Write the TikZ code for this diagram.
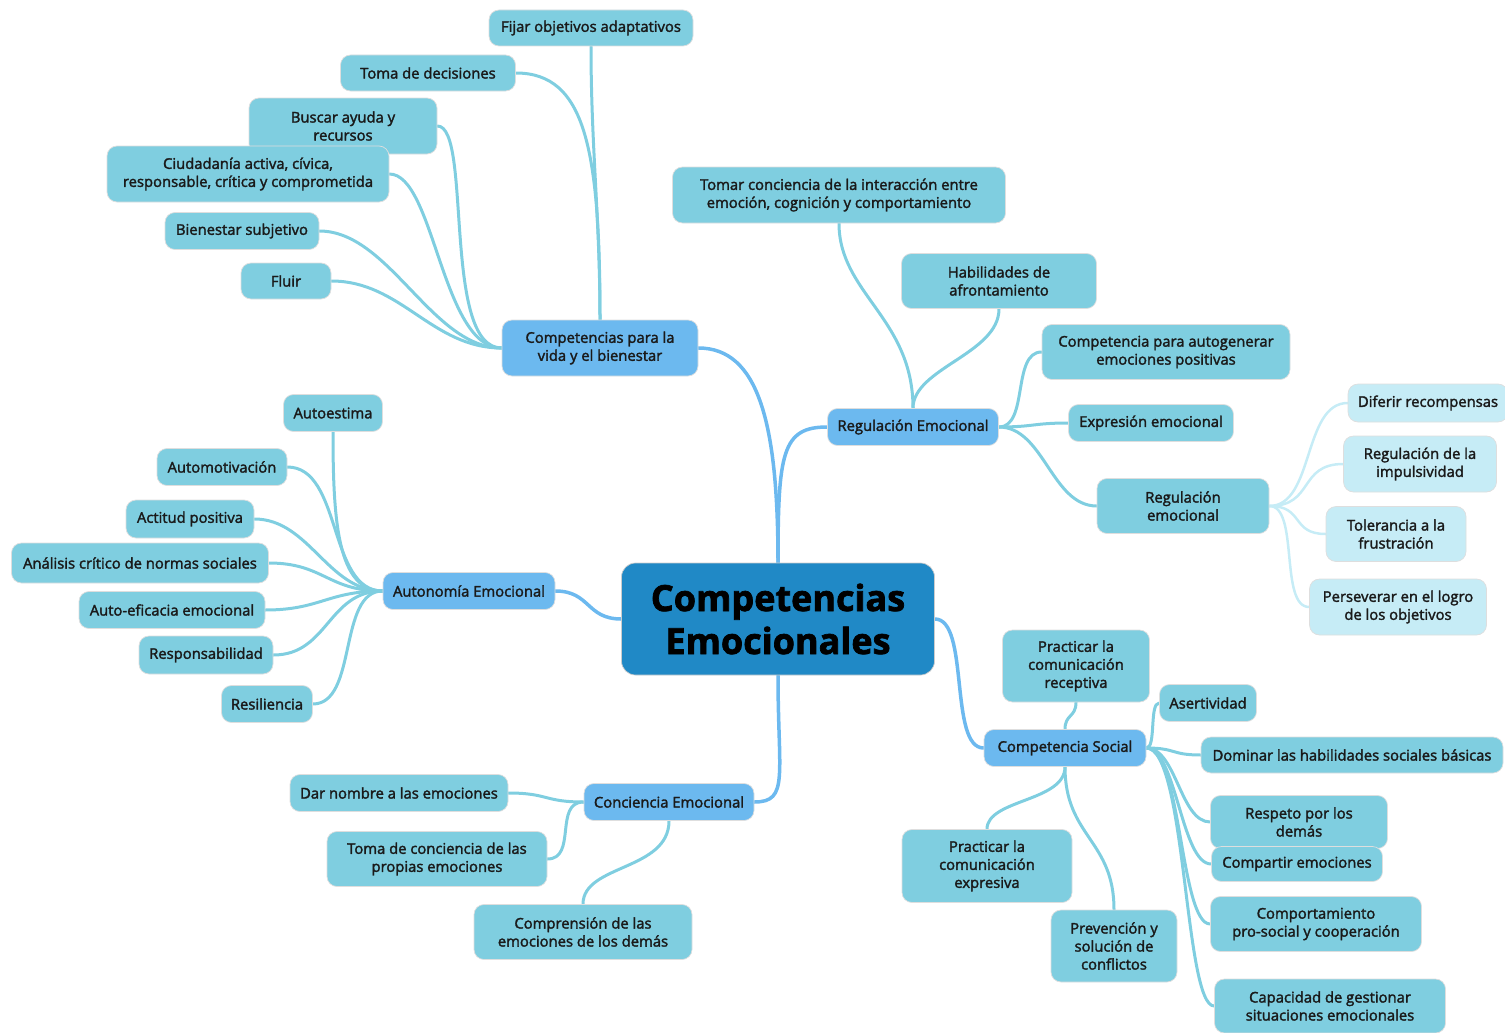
\documentclass[tikz,border=0pt]{standalone}
\usepackage{fontspec}
\setmainfont{Open Sans}[FakeBold=2]
\usetikzlibrary{positioning}
\pgfdeclarelayer{bg}
\pgfsetlayers{bg,main}
\definecolor{cC}{HTML}{2089C6}
\definecolor{cL1}{HTML}{6CB9EF}
\definecolor{cL2}{HTML}{7FCEE0}
\definecolor{cL3}{HTML}{C6ECF6}
\definecolor{txt}{HTML}{1A1A1A}
\tikzset{
  base/.style={rounded corners=10pt, align=center, inner sep=0pt, font=\fontsize{14.8}{18}\selectfont, text=txt, draw=black!13, line width=0.7pt},
  lone/.style={base, fill=cL1},
  ltwo/.style={base, fill=cL2},
  lthree/.style={base, fill=cL3},
  ctr/.style={rounded corners=14pt, align=center, inner sep=0pt, fill=cC, draw=black!20, line width=0.7pt, text=black, font=\fontsize{36}{43}\selectfont\bfseries},
  eone/.style={draw=cL1, line width=3.5pt, line cap=round},
  etwo/.style={draw=cL2, line width=3pt, line cap=round},
  ethree/.style={draw=cL3, line width=2.5pt, line cap=round},
}
\begin{document}
\begin{tikzpicture}[x=1pt,y=-1pt]
\useasboundingbox (0,0) rectangle (1505,1033);
% center
\node[ctr, minimum width=313, minimum height=112] (c) at (778,619) {Competencias\\Emocionales};
% level 1
\node[lone, minimum width=196, minimum height=56] (cv) at (600,348) {Competencias para la\\vida y el bienestar};
\node[lone, minimum width=171, minimum height=37] (re) at (913,427) {Regulación Emocional};
\node[lone, minimum width=172, minimum height=37] (au) at (469,591) {Autonomía Emocional};
\node[lone, minimum width=162, minimum height=37] (so) at (1065,748) {Competencia Social};
\node[lone, minimum width=170, minimum height=37] (ce) at (669,802) {Conciencia Emocional};
% vida y bienestar
\node[ltwo, minimum width=204, minimum height=36] (fi) at (591,28) {Fijar objetivos adaptativos};
\node[ltwo, minimum width=175, minimum height=36] (td) at (428,73) {Toma de decisiones};
\node[ltwo, minimum width=188, minimum height=56] (ba) at (343,126) {Buscar ayuda y\\recursos};
\node[ltwo, minimum width=282, minimum height=56] (ci) at (248,174) {Ciudadanía activa, cívica,\\responsable, crítica y comprometida};
\node[ltwo, minimum width=154, minimum height=37] (bs) at (242,231) {Bienestar subjetivo};
\node[ltwo, minimum width=90, minimum height=36] (fl) at (286,281) {Fluir};
% regulacion
\node[ltwo, minimum width=333, minimum height=56] (tc) at (839,195) {Tomar conciencia de la interacción entre\\emoción, cognición y comportamiento};
\node[ltwo, minimum width=195, minimum height=55] (ha) at (999,281) {Habilidades de\\afrontamiento};
\node[ltwo, minimum width=248, minimum height=55] (ca) at (1166,352) {Competencia para autogenerar\\emociones positivas};
\node[ltwo, minimum width=165, minimum height=37] (ex) at (1151,423) {Expresión emocional};
\node[ltwo, minimum width=172, minimum height=55] (rg) at (1183,506) {Regulación\\emocional};
% level 3
\node[lthree, minimum width=160, minimum height=38] (dr) at (1428,403) {Diferir recompensas};
\node[lthree, minimum width=153, minimum height=56] (ri) at (1420,464) {Regulación de la\\impulsividad};
\node[lthree, minimum width=140, minimum height=55] (tf) at (1396,534) {Tolerancia a la\\frustración};
\node[lthree, minimum width=177, minimum height=56] (pl) at (1398,607) {Perseverar en el logro\\de los objetivos};
% autonomia
\node[ltwo, minimum width=99, minimum height=37] (ae) at (333,413) {Autoestima};
\node[ltwo, minimum width=130, minimum height=37] (am) at (222,467) {Automotivación};
\node[ltwo, minimum width=128, minimum height=38] (ap) at (190,519) {Actitud positiva};
\node[ltwo, minimum width=257, minimum height=40] (an) at (140,563) {Análisis crítico de normas sociales};
\node[ltwo, minimum width=186, minimum height=37] (ef) at (172,610) {Auto-eficacia emocional};
\node[ltwo, minimum width=134, minimum height=38] (rs) at (206,655) {Responsabilidad};
\node[ltwo, minimum width=91, minimum height=37] (rl) at (267,704) {Resiliencia};
% social
\node[ltwo, minimum width=147, minimum height=72] (pr) at (1076,666) {Practicar la\\comunicación\\receptiva};
\node[ltwo, minimum width=97, minimum height=37] (as) at (1208,703) {Asertividad};
\node[ltwo, minimum width=302, minimum height=36] (dh) at (1352,755) {Dominar las habilidades sociales básicas};
\node[ltwo, minimum width=177, minimum height=53] (rp) at (1299,822) {Respeto por los\\demás};
\node[ltwo, minimum width=171, minimum height=35] (cm) at (1297,864) {Compartir emociones};
\node[ltwo, minimum width=211, minimum height=55] (cp) at (1316,924) {Comportamiento\\pro-social y cooperación};
\node[ltwo, minimum width=231, minimum height=54] (cg) at (1330,1006) {Capacidad de gestionar\\situaciones emocionales};
\node[ltwo, minimum width=170, minimum height=73] (pe) at (987,866) {Practicar la\\comunicación\\expresiva};
\node[ltwo, minimum width=126, minimum height=72] (pv) at (1114,946) {Prevención y\\solución de\\conflictos};
% conciencia
\node[ltwo, minimum width=218, minimum height=37] (dn) at (399,793) {Dar nombre a las emociones};
\node[ltwo, minimum width=220, minimum height=55] (tp) at (437,859) {Toma de conciencia de las\\propias emociones};
\node[ltwo, minimum width=218, minimum height=55] (co) at (583,932) {Comprensión de las\\emociones de los demás};

\begin{pgfonlayer}{bg}
% center links
\draw[eone] (c.north) .. controls +(0,-140) and +(60,0) .. (cv.east);
\draw[eone] (c.north) .. controls +(0,-110) and +(-45,0) .. (re.west);
\draw[eone] (c.west) .. controls +(-35,0) and +(35,0) .. (au.east);
\draw[eone] (c.east) .. controls +(35,0) and +(-35,0) .. (so.west);
\draw[eone] (c.south) .. controls +(0,100) and +(35,0) .. (ce.east);
% vida y bienestar
\draw[etwo] (cv.north) .. controls +(0,-100) and +(0,100) .. (fi.south);
\draw[etwo] (cv.north) .. controls +(0,-170) and +(70,0) .. (td.east);
\draw[etwo] (cv.west) .. controls +(-60,0) and +(35,0) .. (ba.east);
\draw[etwo] (cv.west) .. controls +(-60,0) and +(45,0) .. (ci.east);
\draw[etwo] (cv.west) .. controls +(-70,0) and +(70,0) .. (bs.east);
\draw[etwo] (cv.west) .. controls +(-70,0) and +(70,0) .. (fl.east);
% regulacion
\draw[etwo] (re.north) .. controls +(0,-90) and +(0,70) .. (tc.south);
\draw[etwo] (re.north) .. controls +(0,-40) and +(0,45) .. (ha.south);
\draw[etwo] (re.east) .. controls +(30,0) and +(-30,0) .. (ca.west);
\draw[etwo] (re.east) .. controls +(35,0) and +(-35,0) .. (ex.west);
\draw[etwo] (re.east) .. controls +(45,0) and +(-45,0) .. (rg.west);
% level 3
\draw[ethree] (rg.east) .. controls +(45,0) and +(-45,0) .. (dr.west);
\draw[ethree] (rg.east) .. controls +(45,0) and +(-45,0) .. (ri.west);
\draw[ethree] (rg.east) .. controls +(35,0) and +(-35,0) .. (tf.west);
\draw[ethree] (rg.east) .. controls +(30,0) and +(-30,0) .. (pl.west);
% autonomia
\draw[etwo] (au.west) .. controls +(-45,0) and +(0,90) .. (ae.south);
\draw[etwo] (au.west) .. controls +(-55,0) and +(55,0) .. (am.east);
\draw[etwo] (au.west) .. controls +(-55,0) and +(55,0) .. (ap.east);
\draw[etwo] (au.west) .. controls +(-55,0) and +(55,0) .. (an.east);
\draw[etwo] (au.west) .. controls +(-55,0) and +(55,0) .. (ef.east);
\draw[etwo] (au.west) .. controls +(-55,0) and +(55,0) .. (rs.east);
\draw[etwo] (au.west) .. controls +(-45,0) and +(45,0) .. (rl.east);
% social
\draw[etwo] (so.north) .. controls +(0,-15) and +(0,15) .. (pr.south);
\draw[etwo] (so.east) .. controls +(10,0) and +(-10,0) .. (as.west);
\draw[etwo] (so.east) .. controls +(30,0) and +(-30,0) .. (dh.west);
\draw[etwo] (so.east) .. controls +(30,0) and +(-30,0) .. (rp.west);
\draw[etwo] (so.east) .. controls +(30,0) and +(-30,0) .. (cm.west);
\draw[etwo] (so.east) .. controls +(35,0) and +(-30,0) .. (cp.west);
\draw[etwo] (so.east) .. controls +(40,0) and +(-30,0) .. (cg.west);
\draw[etwo] (so.south) .. controls +(0,35) and +(0,-30) .. (pe.north);
\draw[etwo] (so.south) .. controls +(0,70) and +(0,-70) .. (pv.north);
% conciencia
\draw[etwo] (ce.west) .. controls +(-40,0) and +(40,0) .. (dn.east);
\draw[etwo] (ce.west) .. controls +(-30,0) and +(30,0) .. (tp.east);
\draw[etwo] (ce.south) .. controls +(0,50) and +(0,-40) .. (co.north);
\end{pgfonlayer}
\end{tikzpicture}
\end{document}
